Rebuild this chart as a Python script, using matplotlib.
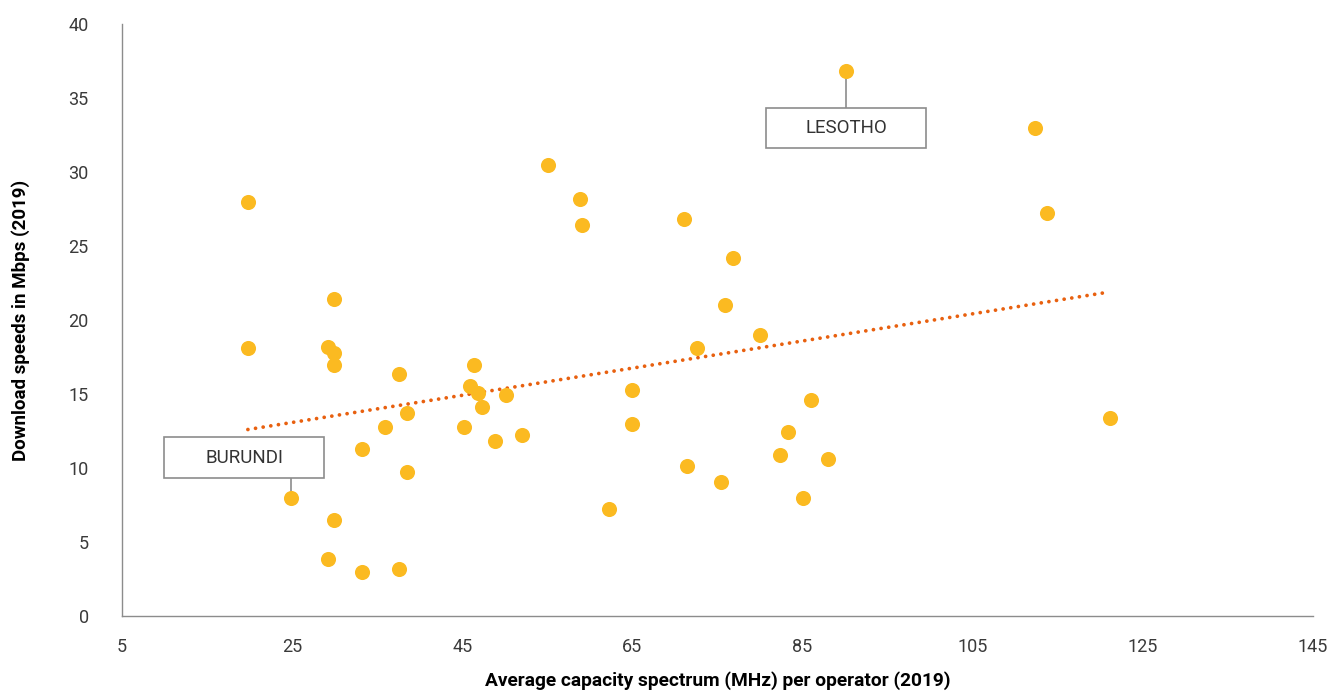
import numpy as np
import matplotlib.pyplot as plt
from matplotlib.patches import Rectangle

# data
spectrum = [19.8, 19.8, 24.9, 29.9, 29.2, 29.9, 29.9, 29.9, 29.2, 33.2, 33.2, 37.6,
            35.9, 38.5, 38.5, 37.6, 46.4, 45.9, 46.8, 47.3, 45.2, 50.1, 48.8, 52.0,
            55.1, 58.8, 59.1, 62.2, 64.9, 64.9, 71.1, 72.6, 71.4, 75.9, 76.8, 75.4,
            80.0, 82.3, 83.3, 86.0, 85.1, 88.0, 90.1, 112.3, 113.7, 121.1]
speed = [27.97, 18.1, 7.97, 21.45, 18.2, 17.75, 16.95, 6.5, 3.85, 11.3, 2.97, 16.35,
         12.8, 13.7, 9.7, 3.2, 16.95, 15.55, 15.1, 14.1, 12.8, 14.9, 11.8, 12.25,
         30.5, 28.2, 26.4, 7.2, 15.3, 13.0, 26.85, 18.1, 10.15, 21.0, 24.2, 9.05,
         19.0, 10.9, 12.4, 14.6, 7.95, 10.6, 36.8, 32.95, 27.2, 13.35]

trend_x = [19.8, 120.6]
trend_y = [12.6, 21.85]

labels = ['LESOTHO', 'BURUNDI']
label_idx = [42, 2]

plt.rcParams['font.family'] = ['Roboto', 'DejaVu Sans']

fig = plt.figure(figsize=(13.39, 6.93), dpi=100)
ax = fig.add_axes([0.0911, 0.1111, 0.8895, 0.8543])

ax.scatter(spectrum, speed, s=118, color='#FBBA21', zorder=3, linewidths=0)
ax.plot(trend_x, trend_y, color='#E8600F', linewidth=2.7,
        linestyle=(0, (0.01, 2.05)), dash_capstyle='round', zorder=2)

# label boxes (width/height in data units)
bw, bh = 18.8, 2.75
boxes = {'LESOTHO': (80.7, 31.6, 'up'), 'BURUNDI': (9.95, 9.32, 'down')}
for name, i in zip(labels, label_idx):
    bx, by, side = boxes[name]
    px, py = spectrum[i], speed[i]
    ax.add_patch(Rectangle((bx, by), bw, bh, facecolor='white', edgecolor='#8c8c8c',
                           linewidth=1.2, zorder=4))
    ax.text(bx + bw / 2, by + bh / 2, name, ha='center', va='center', fontsize=13.5,
            color='#333333', zorder=5)
    if side == 'up':
        ax.plot([px, px], [by + bh, py - 0.45], color='#8c8c8c', lw=1.2, zorder=2)
    else:
        ax.plot([px, px], [by, py + 0.45], color='#8c8c8c', lw=1.2, zorder=2)

ax.set_xlim(5, 145)
ax.set_ylim(0, 40)
ax.set_xticks(np.arange(5, 146, 20))
ax.set_yticks(np.arange(0, 41, 5))
ax.tick_params(length=0, labelsize=13, colors='#3a3a3a')
ax.tick_params(axis='y', pad=24)
ax.tick_params(axis='x', pad=16)
for s in ['top', 'right']:
    ax.spines[s].set_visible(False)
for s in ['left', 'bottom']:
    ax.spines[s].set_color('#8c8c8c')
    ax.spines[s].set_linewidth(1.0)

ax.set_xlabel('Average capacity spectrum (MHz) per operator (2019)', fontsize=13.8,
              fontweight='bold', color='black', labelpad=11)
ax.set_ylabel('Download speeds in Mbps (2019)', fontsize=13.5, fontweight='bold',
              color='black', labelpad=28)

fig.savefig('out.png', dpi=100)
